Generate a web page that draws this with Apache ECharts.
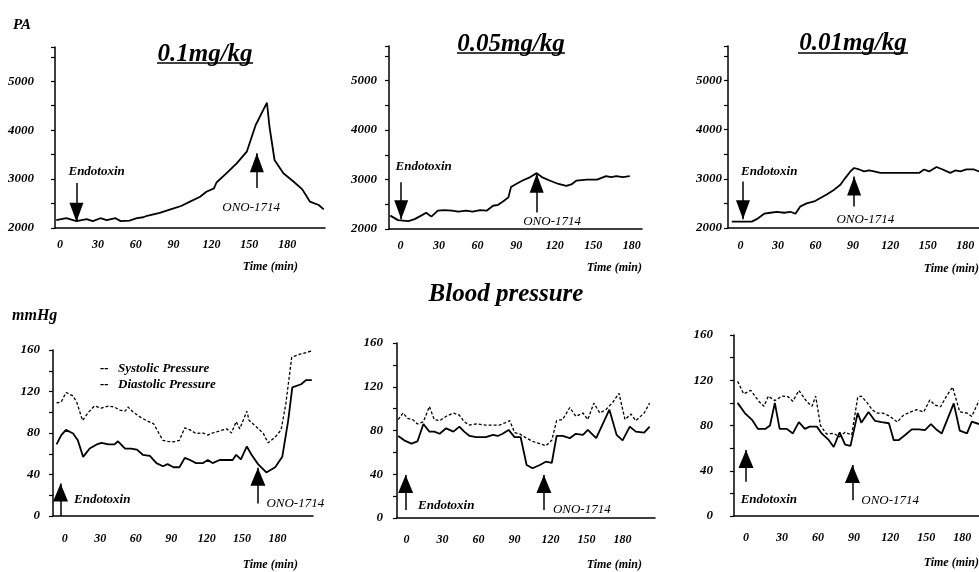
<!DOCTYPE html>
<html><head><meta charset="utf-8">
<script src="https://cdn.jsdelivr.net/npm/echarts@6/dist/echarts.min.js"></script>
<style>html,body{margin:0;padding:0;background:#fff}#c{width:979px;height:572px}</style>
</head><body><div id="c"></div>
<script>
// ---- tick labels ----
const timeTicks = [0, 30, 60, 90, 120, 150, 180];
const paTicks = [2000, 3000, 4000, 5000];
const bpTicks = [0, 40, 80, 120, 160];

// ---- PA (top row) ----
const t1  = [-3, 5, 13, 21, 26, 32, 37, 44, 48, 55, 61, 66, 69, 79, 90, 96, 103, 111, 116, 122, 124, 132, 140, 148, 155, 161, 164, 166, 170, 177, 185, 192, 198, 205, 209];
const pa1 = [2160, 2200, 2140, 2180, 2140, 2200, 2160, 2200, 2140, 2150, 2200, 2220, 2250, 2310, 2400, 2450, 2540, 2640, 2740, 2810, 2930, 3120, 3320, 3560, 4100, 4410, 4560, 4070, 3390, 3120, 2950, 2790, 2540, 2470, 2380];

const t2  = [-8, -2, 6, 11, 16, 20, 24, 29, 34, 40, 45, 51, 56, 62, 67, 72, 76, 80, 84, 86, 90, 95, 101, 106, 110, 116, 123, 129, 133, 137, 145, 153, 160, 164, 168, 173, 178.5];
const pa2 = [2270, 2180, 2160, 2200, 2270, 2330, 2250, 2370, 2380, 2370, 2350, 2370, 2350, 2380, 2370, 2470, 2490, 2560, 2640, 2850, 2910, 2980, 3050, 3130, 3050, 2980, 2910, 2870, 2900, 2980, 3000, 3000, 3070, 3050, 3070, 3050, 3070];

const t3  = [-7, 9, 13, 19, 24, 29, 35, 40, 44, 48, 53, 59, 64, 69, 75, 80, 84, 88, 91, 95, 99, 103, 107, 112, 128, 143, 147, 151, 157, 161, 168, 172, 176, 181, 187, 191];
const pa3 = [2130, 2130, 2180, 2290, 2310, 2330, 2310, 2330, 2290, 2440, 2500, 2540, 2610, 2680, 2780, 2880, 3020, 3150, 3220, 3190, 3150, 3170, 3150, 3120, 3120, 3120, 3190, 3150, 3240, 3200, 3120, 3170, 3150, 3190, 3190, 3150];

// ---- Blood pressure (bottom row) ----
const tb1s = [-7, -3, 1, 6.5, 10, 15, 20, 25, 31, 37, 42, 46.5, 51, 53.5, 58, 63, 69, 75, 79, 83, 87, 92, 97, 101.5, 106, 111, 117, 121, 125, 131, 137, 141, 145, 148, 154, 156, 162, 168, 172, 178, 183, 187, 192, 199, 209];
const sys1 = [109, 110, 119, 116, 110, 92, 100, 106, 104, 106, 105, 102, 101, 105, 100, 96, 92, 89, 81, 73, 72, 71.5, 73, 85, 83, 79.5, 80, 78, 80, 82, 84, 80, 91, 84, 101, 92, 86, 79.5, 70.5, 76, 83, 108, 153, 156, 159];
const tb1d = [-7, -3, 1, 7, 11, 15.5, 21, 27, 31, 37, 42, 45, 51, 56, 61, 66, 72, 77.5, 83, 87, 92, 97, 101.5, 106, 111, 117, 121, 125, 131, 137, 142, 145, 149, 154, 158, 163.5, 170.5, 178, 184, 189, 192.5, 200, 204, 209];
const dia1 = [69, 78, 83, 79.5, 73, 57, 65, 69, 70.5, 69, 69, 72, 65, 65, 64, 59, 58, 51, 48, 50, 47, 47, 56, 54, 51, 51, 54, 51, 54, 54, 54, 59, 54.5, 67, 59, 50, 42, 47, 57, 92, 124, 127, 131, 131];

const tb2s = [-7, -3, 1, 5, 9, 14, 19, 23, 27.5, 33, 39, 44, 48, 52.5, 58, 66, 72, 77.5, 82, 86, 90, 94, 100, 105, 111, 116, 121, 125, 130, 136, 141, 147, 151, 156, 161, 166, 172, 177, 182, 187, 191, 198, 202.5];
const sys2 = [90, 96, 91, 90, 86, 88, 102, 90, 89, 93, 96, 94, 88, 85, 86, 85, 85, 85, 87, 89, 78, 77, 73, 70, 68, 66, 71, 89, 90, 101, 93, 96, 90, 105, 96, 99, 106, 114, 90, 95, 89, 96, 105];
const tb2d = [-7, -2, 4, 9, 14, 19, 23, 27.5, 33, 39, 44, 48, 52.5, 58, 66, 72, 76, 80, 85, 90, 95, 100, 105, 111, 116, 121, 125, 130, 136, 141, 147, 151, 158, 169, 175, 180, 186, 191, 198, 202.5];
const dia2 = [75, 71, 68, 70, 86, 79, 79, 77, 82, 79, 83.5, 79, 75, 74, 74, 76, 75, 77, 80.5, 74, 74, 48.5, 45.5, 48.5, 51.5, 50.5, 75, 75, 73, 77, 76, 80.5, 73, 99, 76, 71, 83.5, 79, 78, 83.5];

const tb3s = [-7, -2, 4, 11, 15, 18.6, 24, 30, 35, 39, 44, 50.6, 55, 58, 62, 67, 73, 78, 82.5, 88, 93, 96, 101, 105, 109, 114, 120, 126, 131, 137, 142, 148, 153, 157.5, 162, 167, 172, 178, 184, 188, 194];
const sys3 = [119, 108, 111, 101, 97, 106, 102, 106, 105.5, 101.5, 111, 101, 97, 106, 80, 72.5, 73, 70, 74, 71.6, 105, 106, 100, 94, 91, 91, 88, 83, 89, 92, 94, 92, 102.5, 98, 96.6, 106, 114, 92, 91, 88, 102];
const tb3d = [-7, -1, 5, 10, 16, 20, 24, 28, 34, 39, 44, 49, 53, 59, 63, 69, 73, 78, 82.5, 87, 93, 96, 102, 107.5, 113, 119, 123, 127, 132.5, 138, 144, 149, 154, 159, 163, 173, 178, 184, 188, 194];
const dia3 = [100, 91, 85, 77, 77, 80, 100, 77, 77, 73, 83, 77, 79, 79, 73, 67, 61, 74, 63, 62, 91, 82.5, 92, 84, 83, 82, 67, 67, 71.6, 76.6, 76.6, 76, 81.3, 76, 73, 99.6, 75.4, 73, 83.4, 81.3];

// ---- annotations: arrows [time, tail value, tip value], labels [text, time, value] ----
const arrT1 = [[13, 2920, 2130], [156, 2820, 3530]];
const arrT2 = [[0.5, 2947, 2198], [106, 2333, 3118]];
const arrT3 = [[2, 2947, 2177], [91, 2436, 3049]];
const arrB1 = [[-3.6, 0, 31.4], [163.4, 12, 46.5]];
const arrB2 = [[-0.8, 7.3, 39.3], [114.4, 7.3, 39.3]];
const arrB3 = [[0, 30.3, 58.4], [88.6, 14, 45]];
const labT1 = [['Endotoxin', 29, 3145], ['ONO-1714', 151.5, 2410]];
const labT2 = [['Endotoxin', 18, 3254], ['ONO-1714', 118, 2150]];
const labT3 = [['Endotoxin', 23, 3151], ['ONO-1714', 100, 2164]];
const labB1 = [['Endotoxin', 31.7, 15.4], ['ONO-1714', 195, 12]];
const labB2 = [['Endotoxin', 33, 11], ['ONO-1714', 146, 7.3]];
const labB3 = [['Endotoxin', 19, 14.7], ['ONO-1714', 120, 13.5]];

const FONT = '"Liberation Serif", "Times New Roman", serif';
const zip = (t, v) => t.map((x, i) => [x, v[i]]);

const panels = [
  {g: [55, 47, 270, 181], xr: [-4, 210], yr: [2000, 5700, 500], yt: paTicks, ylm: 21, xlm: 11, head: [14, 19],
   lines: [[t1, pa1, 'solid']], arrows: arrT1, labels: labT1},
  {g: [389, 46, 253, 183], xr: [-9, 188], yr: [2000, 5700, 500], yt: paTicks, ylm: 12, xlm: 11, head: [14, 19],
   lines: [[t2, pa2, 'solid']], arrows: arrT2, labels: labT2},
  {g: [728, 46, 251, 182], xr: [-10, 191], yr: [2000, 5700, 500], yt: paTicks, ylm: 6, xlm: 12, head: [14, 19],
   lines: [[t3, pa3, 'solid']], arrows: arrT3, labels: labT3},
  {g: [53, 350, 260, 166], xr: [-10, 210], yr: [0, 160, 20], yt: bpTicks, ylm: 13, xlm: 17, head: [15, 18],
   lines: [[tb1s, sys1, 'dash'], [tb1d, dia1, 'solid']], arrows: arrB1, labels: labB1},
  {g: [397, 343, 258, 175], xr: [-8, 207], yr: [0, 160, 20], yt: bpTicks, ylm: 14, xlm: 16, head: [15, 18],
   lines: [[tb2s, sys2, 'dash'], [tb2d, dia2, 'solid']], arrows: arrB2, labels: labB2},
  {g: [734, 335, 245, 181], xr: [-10, 194], yr: [0, 160, 20], yt: bpTicks, ylm: 21, xlm: 16, head: [15, 18],
   lines: [[tb3s, sys3, 'dash'], [tb3d, dia3, 'solid']], arrows: arrB3, labels: labB3}
];

const af = (size) => ({fontFamily: FONT, fontWeight: 'bold', fontStyle: 'italic', fontSize: size, color: '#000'});

const grid = [], xAxis = [], yAxis = [], series = [];
panels.forEach((p, i) => {
  grid.push({left: p.g[0], top: p.g[1], width: p.g[2], height: p.g[3], containLabel: false, outerBoundsMode: 'none'});
  xAxis.push({
    type: 'value', gridIndex: i, min: p.xr[0], max: p.xr[1],
    axisLine: {show: true, onZero: false, lineStyle: {color: '#000', width: 1.5}},
    axisTick: {show: false}, splitLine: {show: false},
    axisLabel: Object.assign({customValues: timeTicks, margin: p.xlm}, af(12))
  });
  yAxis.push({
    type: 'value', gridIndex: i, min: p.yr[0], max: p.yr[1], interval: p.yr[2],
    axisLine: {show: true, onZero: false, lineStyle: {color: '#000', width: 1.5}},
    axisTick: {show: true, inside: false, length: 4, lineStyle: {color: '#000', width: 1.2}},
    splitLine: {show: false},
    axisLabel: Object.assign({margin: p.ylm, formatter: v => (p.yt.indexOf(v) >= 0 ? String(v) : '')}, af(13))
  });
  p.lines.forEach((ln, j) => {
    const s = {
      type: 'line', xAxisIndex: i, yAxisIndex: i, data: zip(ln[0], ln[1]),
      showSymbol: false, symbol: 'none', silent: true, color: '#000',
      lineStyle: ln[2] === 'dash' ? {color: '#000', width: 1.3, type: [3, 2]} : {color: '#000', width: 1.8, type: 'solid'}
    };
    if (j === 0) {
      s.markLine = {
        silent: true, animation: false, symbol: ['none', 'triangle'], symbolSize: 0,
        label: {show: false}, emphasis: {disabled: true},
        lineStyle: {color: '#000', width: 1.5, type: 'solid'},
        itemStyle: {color: '#000'},
        data: p.arrows.map(a => [
          {coord: [a[0], a[1]], symbol: 'none', symbolSize: 0},
          {coord: [a[0], a[2]], symbol: 'triangle', symbolSize: p.head, symbolOffset: [0, '50%'], itemStyle: {color: '#000'}}
        ])
      };
      s.markPoint = {
        silent: true, animation: false,
        data: p.labels.map(l => ({
          name: l[0], coord: [l[1], l[2]], symbol: 'circle', symbolSize: 0,
          label: {show: true, position: 'inside', formatter: '{b}', fontFamily: FONT, fontStyle: 'italic',
                  fontWeight: l[0] === 'Endotoxin' ? 'bold' : 'normal', fontSize: 13, color: '#000'}
        }))
      };
    }
    series.push(s);
  });
});

const txt = (text, x, y, size, align, extra) => Object.assign({
  type: 'text', x: x, y: y, silent: true,
  style: {text: text, font: 'italic bold ' + size + 'px ' + FONT, fill: '#000',
          textAlign: align, align: align, textVerticalAlign: 'middle', verticalAlign: 'middle'}
}, extra || {});
const uline = (x1, x2, y) => ({type: 'line', silent: true, shape: {x1: x1, y1: y, x2: x2, y2: y}, style: {stroke: '#000', lineWidth: 1.5}});

const graphic = [
  txt('PA', 13, 25, 15, 'left'),
  txt('0.1mg/kg', 205, 55, 25, 'center'), uline(157, 253, 63),
  txt('0.05mg/kg', 511, 44.5, 25, 'center'), uline(457, 565, 53),
  txt('0.01mg/kg', 853, 44, 25, 'center'), uline(798, 908, 53),
  txt('Blood pressure', 506, 295, 25, 'center'),
  txt('mmHg', 12, 316, 16, 'left'),
  txt('--', 100, 369, 13, 'left'), txt('Systolic Pressure', 118, 369, 13, 'left'),
  txt('--', 100, 385, 13, 'left'), txt('Diastolic Pressure', 118, 385, 13, 'left'),
  txt('Time (min)', 298, 267, 12, 'right'),
  txt('Time (min)', 642, 268, 12, 'right'),
  txt('Time (min)', 979, 269, 12, 'right'),
  txt('Time (min)', 298, 565, 12, 'right'),
  txt('Time (min)', 642, 565, 12, 'right'),
  txt('Time (min)', 979, 563, 12, 'right')
];

const chart = echarts.init(document.getElementById('c'), null, {renderer: 'canvas'});
chart.setOption({
  backgroundColor: '#fff', animation: false,
  grid: grid, xAxis: xAxis, yAxis: yAxis, series: series, graphic: graphic
});
</script></body></html>
